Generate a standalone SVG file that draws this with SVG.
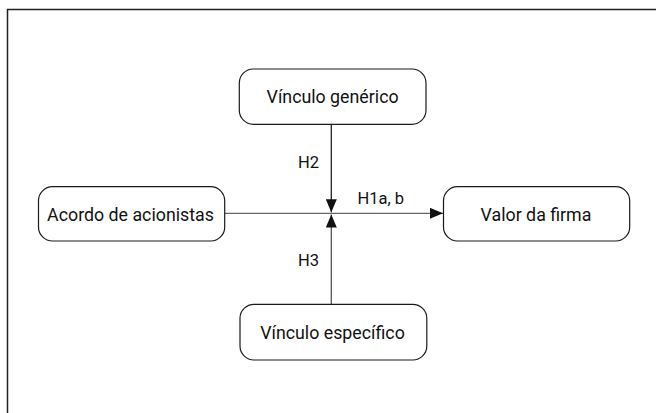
<svg xmlns="http://www.w3.org/2000/svg" width="656" height="413" viewBox="0 0 656 413">
<style>
.box{fill:#fff;stroke:#1a1a1a;stroke-width:1.2}
.t{font-family:Roboto,"Noto Sans",sans-serif;font-size:17.8px;fill:#111;text-anchor:middle}
.lbl{font-family:Roboto,"Noto Sans",sans-serif;font-size:16.5px;fill:#111}
.ln{fill:none;stroke-width:1.3}
</style>
<defs>
<marker id="ah" markerWidth="13" markerHeight="11" refX="13" refY="5.5" orient="auto" markerUnits="userSpaceOnUse">
<path d="M0,0 L13,5.5 L0,11 Z" fill="#111"/>
</marker>
</defs>
<rect width="656" height="413" fill="#fff"/>
<path d="M7.5,413 V9.5 H656" fill="none" stroke="#222" stroke-width="1.5"/>
<g id="connectors">
<path class="ln" d="M224.7,213.3 H443" stroke="#666" marker-end="url(#ah)"/>
<path class="ln" d="M331.3,124.3 V212.3" stroke="#222" marker-end="url(#ah)"/>
<path class="ln" d="M331.3,304.3 V214.5" stroke="#555" marker-end="url(#ah)"/>
<text class="lbl" x="298" y="168">H2</text>
<text class="lbl" x="357.5" y="203.5">H1a, b</text>
<text class="lbl" x="298" y="266">H3</text>
</g>
<g id="vinculo-generico">
<rect class="box" x="239.3" y="69" width="186.7" height="55.3" rx="14"/>
<text class="t" x="332.6" y="103.3">Vínculo genérico</text>
</g>
<g id="acordo">
<rect class="box" x="38.5" y="186.7" width="186.2" height="54.3" rx="14"/>
<text class="t" x="130.5" y="220.7">Acordo de acionistas</text>
</g>
<g id="valor">
<rect class="box" x="443.5" y="186.7" width="186.2" height="54.3" rx="14"/>
<text class="t" x="536" y="220.7">Valor da firma</text>
</g>
<g id="vinculo-especifico">
<rect class="box" x="240" y="304.3" width="186.8" height="55.7" rx="14"/>
<text class="t" x="332.5" y="338.8">Vínculo específico</text>
</g>
</svg>
